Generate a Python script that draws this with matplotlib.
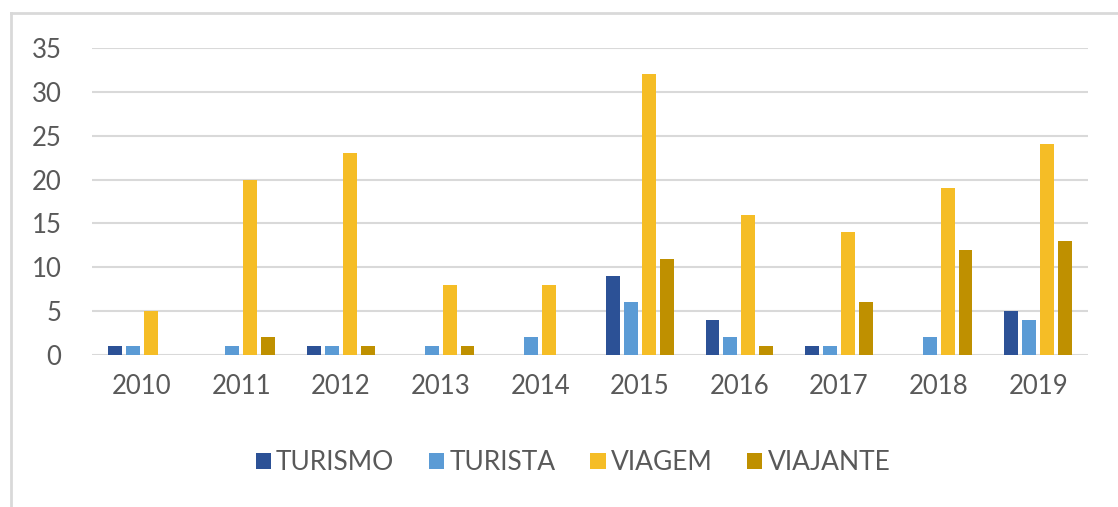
import matplotlib
matplotlib.use("Agg")
import matplotlib.pyplot as plt
from matplotlib.lines import Line2D
import numpy as np

years = ["2010", "2011", "2012", "2013", "2014", "2015", "2016", "2017", "2018", "2019"]
turismo = [1, 0, 1, 0, 0, 9, 4, 1, 0, 5]
turista = [1, 1, 1, 1, 2, 6, 2, 1, 2, 4]
viagem = [5, 20, 23, 8, 8, 32, 16, 14, 19, 24]
viajante = [0, 2, 1, 1, 0, 11, 1, 6, 12, 13]
series_names = ["TURISMO", "TURISTA", "VIAGEM", "VIAJANTE"]
yticks = [0, 5, 10, 15, 20, 25, 30, 35]

colors = ["#2C5196", "#5B9BD5", "#F5BD26", "#BF9000"]
series = [turismo, turista, viagem, viajante]

plt.rcParams['font.family'] = ['Lato', 'DejaVu Sans']

fig = plt.figure(figsize=(11.18, 5.07), dpi=100)
ax = fig.add_axes([92/1118, 152/507, (1088-92)/1118, (355-48)/507])

x = np.arange(len(years))
step = 0.18
width = 0.14
for i, (name, vals, c) in enumerate(zip(series_names, series, colors)):
    ax.bar(x + (i - 1.5) * step, vals, width=width, color=c, label=name, zorder=3)

ax.set_xlim(-0.5, len(years) - 0.5)
ax.set_ylim(0, 35)
ax.set_yticks(yticks)
ax.set_xticks(x)
ax.set_xticklabels(years)
ax.grid(axis='y', color='#D9D9D9', linewidth=1.5, zorder=0)
for s in ax.spines.values():
    s.set_visible(False)
ax.tick_params(axis='both', length=0, labelsize=18.5, colors='#595959')
ax.tick_params(axis='x', pad=14)
ax.tick_params(axis='y', pad=22)

leg = fig.legend(loc='center', bbox_to_anchor=(573/1118, (507-463)/507), ncol=4,
                 frameon=False, fontsize=19, handlelength=0.57, handleheight=0.57,
                 handletextpad=0.19, columnspacing=1.33, labelcolor='#595959')

# border lines (top and left) of the original chart box
fig.add_artist(Line2D([11/1118, 1.0], [1 - 13/507, 1 - 13/507], color='#D9D9D9', linewidth=2, transform=fig.transFigure))
fig.add_artist(Line2D([11/1118, 11/1118], [0, 1 - 13/507], color='#D9D9D9', linewidth=2, transform=fig.transFigure))

fig.savefig("out.png", dpi=100, facecolor='white')
